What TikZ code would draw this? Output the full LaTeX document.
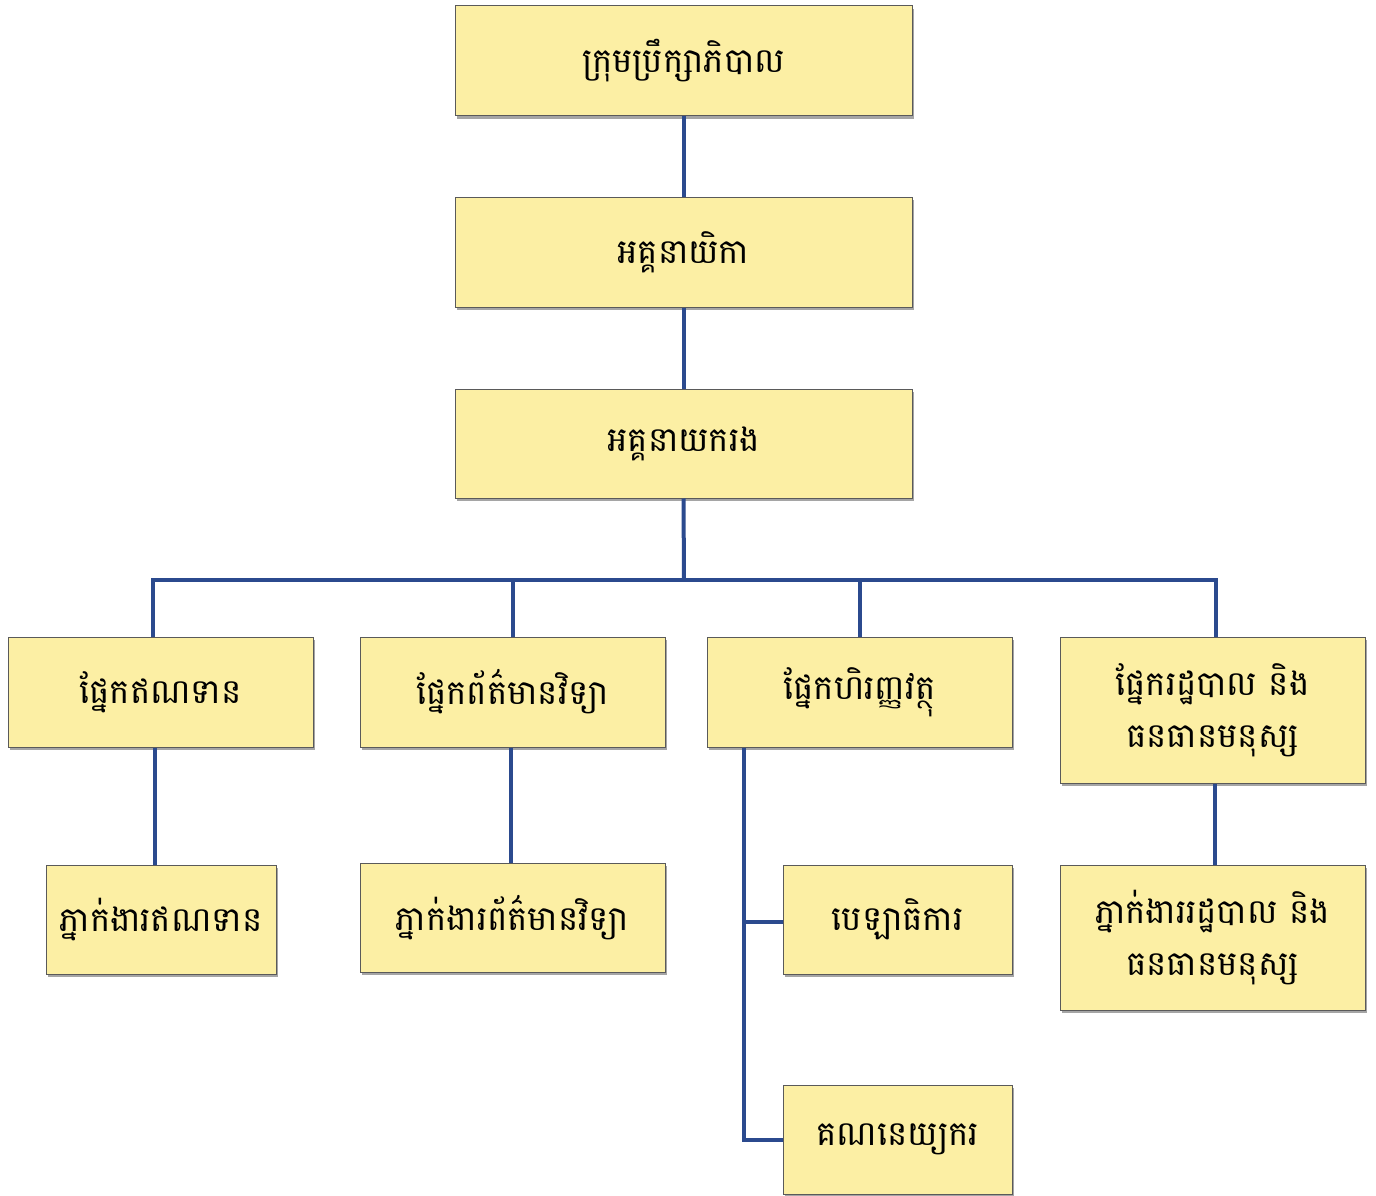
\documentclass[tikz,border=0pt]{standalone}
\usepackage{fontspec}
\newfontfamily\khmer[Script=Khmer]{Battambang}
\usetikzlibrary{shadows,calc}
\definecolor{boxfill}{HTML}{FCEFA4}
\definecolor{boxline}{HTML}{5A5A5A}
\definecolor{conncol}{HTML}{2B4A8E}
\tikzset{
  box/.style={draw=boxline, line width=1pt, fill=boxfill, inner sep=0pt,
    align=center, font=\khmer\fontsize{34}{52}\selectfont,
    drop shadow={shadow xshift=2pt, shadow yshift=-3pt, fill=black!70, opacity=0.5}},
  conn/.style={draw=conncol, line width=4pt}
}
\begin{document}
\begin{tikzpicture}[x=1pt,y=-1pt]
\useasboundingbox (0,0) rectangle (1376,1196);
\node[box, minimum width=457pt, minimum height=110pt] (board) at (683.5,61) {ក្រុមប្រឹក្សាភិបាល};
\node[box, minimum width=457pt, minimum height=110pt] (ceo) at (683.5,252) {អគ្គនាយិកា};
\node[box, minimum width=457pt, minimum height=109pt] (dep) at (683.5,443.5) {អគ្គនាយករង};
\node[box, minimum width=305pt, minimum height=110pt] (credit) at (160.5,692) {ផ្នែកឥណទាន};
\node[box, minimum width=305pt, minimum height=110pt] (it) at (512.5,692) {ផ្នែកព័ត៌មានវិទ្យា};
\node[box, minimum width=305pt, minimum height=110pt] (fin) at (859.5,692) {ផ្នែកហិរញ្ញវត្ថុ};
\node[box, minimum width=305pt, minimum height=146pt] (hr) at (1212.5,710) {ផ្នែករដ្ឋបាល និង\\ធនធានមនុស្ស};
\node[box, minimum width=230pt, minimum height=109pt] (creditag) at (161,919.5) {ភ្នាក់ងារឥណទាន};
\node[box, minimum width=305pt, minimum height=109pt] (itag) at (512.5,917.5) {ភ្នាក់ងារព័ត៌មានវិទ្យា};
\node[box, minimum width=229pt, minimum height=109pt] (cash) at (897.5,919.5) {បេឡាធិការ};
\node[box, minimum width=305pt, minimum height=145pt] (hrag) at (1212.5,937.5) {ភ្នាក់ងាររដ្ឋបាល និង\\ធនធានមនុស្ស};
\node[box, minimum width=229pt, minimum height=109pt] (acct) at (897.5,1139.5) {គណនេយ្យករ};
\draw[conn] (board.south) -- (ceo.north);
\draw[conn] (ceo.south) -- (dep.north);
\coordinate (bus) at (684,580);
\coordinate (busL) at (153,580);
\coordinate (busR) at (1216,580);
\draw[conn] (dep.south) -- (bus);
\draw[conn, line cap=rect] (busL) -- (busR);
\draw[conn] (busL) -- (busL |- credit.north);
\draw[conn] (bus -| it.north) -- (it.north);
\draw[conn] (bus -| fin.north) -- (fin.north);
\draw[conn] (busR) -- (busR |- hr.north);
\draw[conn] (credit.south -| 155,0) -- (creditag.north -| 155,0);
\draw[conn] (it.south -| 511,0) -- (itag.north -| 511,0);
\draw[conn] (hr.south -| 1215,0) -- (hrag.north -| 1215,0);
\coordinate (fdrop) at (744,747);
\draw[conn] (fin.south -| fdrop) |- (acct.west);
\draw[conn] (cash.west |- 0,922) -- (744,922);
\end{tikzpicture}
\end{document}
